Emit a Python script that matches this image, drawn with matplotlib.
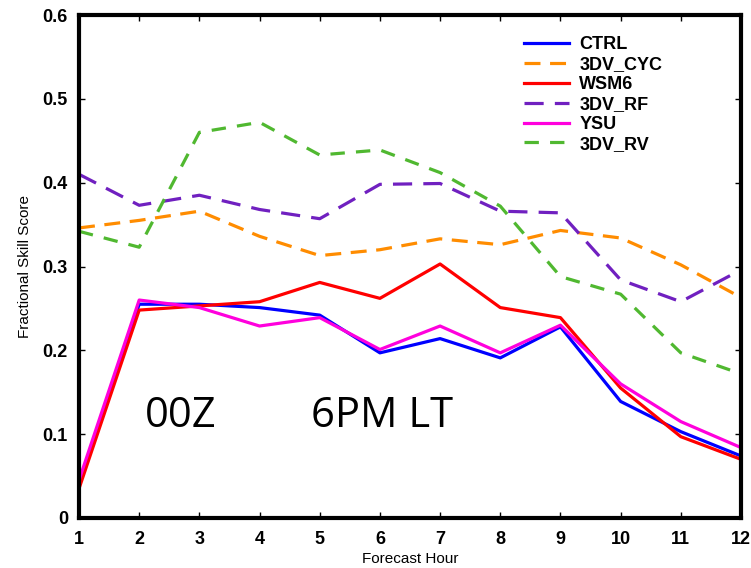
import matplotlib
matplotlib.use("Agg")
import matplotlib.pyplot as plt
from matplotlib import font_manager

hours = list(range(1, 13))
ctrl = [0.040, 0.255, 0.255, 0.251, 0.242, 0.197, 0.214, 0.191, 0.228, 0.139, 0.103, 0.074]
cyc = [0.346, 0.355, 0.366, 0.336, 0.313, 0.320, 0.333, 0.326, 0.343, 0.334, 0.302, 0.263]
wsm6 = [0.035, 0.248, 0.253, 0.258, 0.281, 0.262, 0.303, 0.251, 0.239, 0.155, 0.097, 0.070]
rf = [0.410, 0.373, 0.385, 0.368, 0.357, 0.398, 0.399, 0.366, 0.364, 0.284, 0.258, 0.296]
ysu = [0.045, 0.260, 0.251, 0.229, 0.239, 0.201, 0.229, 0.197, 0.230, 0.160, 0.115, 0.084]
rv = [0.342, 0.323, 0.460, 0.472, 0.433, 0.439, 0.412, 0.372, 0.288, 0.267, 0.197, 0.172]
labels = ["CTRL", "3DV_CYC", "WSM6", "3DV_RF", "YSU", "3DV_RV"]

names = {f.name for f in font_manager.fontManager.ttflist}
tickfam = "Liberation Sans Narrow" if "Liberation Sans Narrow" in names else "Liberation Sans"

fig = plt.figure(figsize=(7.51, 5.68), dpi=100)
ax = fig.add_axes([79/751, 50/568, 662/751, 503/568])

lw = 2.3
ax.plot(hours, ctrl, color="#0000ff", lw=lw, label=labels[0])
ax.plot(hours, cyc, color="#ff8c00", lw=lw, dashes=(5, 3), label=labels[1])
ax.plot(hours, wsm6, color="#ff0000", lw=lw, label=labels[2])
ax.plot(hours, rf, color="#7020c0", lw=lw, dashes=(6, 3.5), label=labels[3])
ax.plot(hours, ysu, color="#ff00dd", lw=lw, label=labels[4])
ax.plot(hours, rv, color="#50b830", lw=lw, dashes=(4.5, 3.5), label=labels[5])

ax.set_xlim(1, 12)
ax.set_ylim(0, 0.6)
ax.set_xticks(hours)
ax.set_yticks([0, 0.1, 0.2, 0.3, 0.4, 0.5, 0.6])
ax.set_yticklabels(["0", "0.1", "0.2", "0.3", "0.4", "0.5", "0.6"])
for lab in ax.get_xticklabels() + ax.get_yticklabels():
    lab.set_fontweight("bold")
    lab.set_fontsize(13)
    lab.set_family(tickfam)
ax.tick_params(direction="in", length=4, width=1, top=True, right=True)
ax.tick_params(axis="x", pad=9)
ax.tick_params(axis="y", pad=8)
for s in ax.spines.values():
    s.set_linewidth(3)

ax.set_xlabel("Forecast Hour", fontsize=11, family="Liberation Sans", labelpad=3)
ax.set_ylabel("Fractional Skill Score", fontsize=11, family="Liberation Sans", labelpad=8)

leg = ax.legend(loc="upper left", frameon=False, handlelength=2.5,
                prop={"family": "Liberation Sans", "weight": "bold", "size": 13},
                labelspacing=0.16, handletextpad=0.55, borderpad=0.4,
                bbox_to_anchor=(0.648, 0.99))

ax.text(2.1, 0.108, "00Z", fontsize=30, family="Open Sans", ha="left", va="baseline")
ax.text(4.85, 0.108, "6PM LT", fontsize=30, family="Open Sans", ha="left", va="baseline")

fig.savefig("out.png", dpi=100)
